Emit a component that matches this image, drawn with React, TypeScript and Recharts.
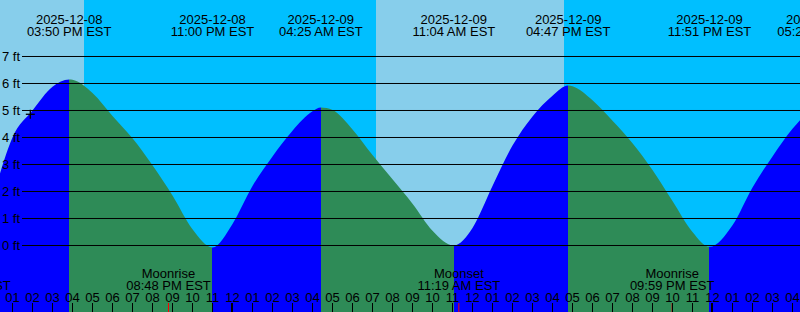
import React from 'react';
import { ComposedChart, Area, XAxis, YAxis, ReferenceArea, Scatter } from 'recharts';

const FONT = '"Liberation Sans", Arial, Helvetica, sans-serif';
const DAY = '#87CEEB';
const NIGHT = '#00BFFF';
const RISE = '#0000FF';
const FALL = '#2E8B57';

const chartTitle = 'Woodbury Creek, New Jersey';

// time axis: hours relative to 2025-12-09 00:00 EST
const viewStart = -11.625;
const viewEnd = 28.375;
const heightMin = -2.463;
const heightMax = 9.0926;

const feetTicks = [0, 1, 2, 3, 4, 5, 6, 7];
const hourTicks = [
  -11, -10, -9, -8, -7, -6, -5, -4, -3, -2, -1, 0, 1, 2, 3, 4, 5, 6, 7, 8,
  9, 10, 11, 12, 13, 14, 15, 16, 17, 18, 19, 20, 21, 22, 23, 24, 25, 26, 27, 28,
];

// tide height readings (ft)
const curveTimes = [
  -11.625, -11, -10, -9, -8.1667, -8, -7, -6, -5, -4, -3, -2, -1, 0, 1, 2, 3, 4, 4.4167, 5,
  6, 7, 8, 9, 10, 11.0667, 12, 13, 14, 15, 16, 16.7833, 17, 18, 19, 20, 21, 22, 23, 23.85,
  25, 26, 27, 28, 28.375,
];
const curveHeights = [
  2.67, 4.0, 5.0, 5.88, 6.15, 6.14, 5.65, 4.8, 3.97, 2.97, 1.85, 0.6, -0.07, 0.8, 2.2, 3.3, 4.25, 4.97, 5.11, 5.02,
  4.3, 3.35, 2.45, 1.55, 0.55, 0.0, 0.65, 2.2, 3.7, 4.78, 5.55, 5.93, 5.9, 5.38, 4.62, 3.79, 2.8, 1.65, 0.5, -0.05,
  0.75, 2.15, 3.3, 4.32, 4.64,
];

// high / low tides
const extremeTimes = [-8.1667, -1.0, 4.4167, 11.0667, 16.7833, 23.85, 29.3333];
const extremeHeights = [6.15, -0.07, 5.11, 0.0, 5.93, -0.05, 5.3];
const extremeKinds = ['H', 'L', 'H', 'L', 'H', 'L', 'H'];
const extremeDates = ['2025-12-08', '2025-12-08', '2025-12-09', '2025-12-09', '2025-12-09', '2025-12-09', '2025-12-10'];
const extremeClocks = ['03:50 PM EST', '11:00 PM EST', '04:25 AM EST', '11:04 AM EST', '04:47 PM EST', '11:51 PM EST', '05:20 AM EST'];

// moon events
const moonTimes = [-13.1833, -3.2, 11.3167, 21.9833];
const moonNames = ['Moonset', 'Moonrise', 'Moonset', 'Moonrise'];
const moonClocks = ['10:49 AM EST', '08:48 PM EST', '11:19 AM EST', '09:59 PM EST'];

// sun events
const sunTimes = [-7.425, 7.175, 16.575];
const sunKinds = ['set', 'rise', 'set'];

// current time marker
const nowTime = -10.11;
const nowHeight = 4.86;

const curveData = curveTimes.map((t, i) => ({ t, h: curveHeights[i] }));
const extremeData = extremeTimes.map((t, i) => ({
  t, h: extremeHeights[i], kind: extremeKinds[i], date: extremeDates[i], clock: extremeClocks[i],
}));
const moonData = moonTimes.map((t, i) => ({ t, h: 0, name: moonNames[i], clock: moonClocks[i] }));
const nowData = [{ t: nowTime, h: nowHeight }];

const bands: { x1: number; x2: number; fill: string }[] = [];
{
  let start = viewStart;
  let isDay = sunKinds[0] === 'set';
  sunTimes.forEach((t, i) => {
    bands.push({ x1: start, x2: t, fill: isDay ? DAY : NIGHT });
    start = t;
    isDay = sunKinds[i] === 'rise';
  });
  bands.push({ x1: start, x2: viewEnd, fill: isDay ? DAY : NIGHT });
}

const gradientStops: { offset: number; color: string }[] = [];
{
  const span = viewEnd - viewStart;
  let color = extremeKinds[0] === 'H' ? RISE : FALL;
  gradientStops.push({ offset: 0, color });
  extremeData.forEach((e) => {
    if (e.t <= viewStart || e.t >= viewEnd) return;
    const o = (e.t - viewStart) / span;
    gradientStops.push({ offset: o, color });
    color = e.kind === 'H' ? FALL : RISE;
    gradientStops.push({ offset: o, color });
  });
  gradientStops.push({ offset: 1, color });
}

const textStyle = { fontFamily: FONT, fontSize: 13, fill: '#000' };

function HourTick(props: any) {
  const { x, payload } = props;
  const v = payload.value as number;
  const h12 = ((v % 12) + 12) % 12;
  const label = h12 === 0 ? '12' : String(h12).padStart(2, '0');
  const isMidnight = ((v % 24) + 24) % 24 === 0;
  const lx = isMidnight ? x - 0.5 : x;
  return (
    <g>
      <text x={x} y={302} textAnchor="middle" {...textStyle}>{label}</text>
      <line x1={lx} x2={lx} y1={303} y2={312} stroke="#000" strokeWidth={isMidnight ? 2 : 1} />
    </g>
  );
}

function FeetTick(props: any) {
  const { y, payload } = props;
  return (
    <g>
      <line x1={22} x2={800} y1={y} y2={y} stroke="#000" strokeWidth={1} />
      <text x={2} y={y + 4.5} textAnchor="start" {...textStyle}>{`${payload.value} ft`}</text>
    </g>
  );
}

function ExtremeLabel(props: any) {
  const { cx, payload } = props;
  return (
    <g>
      <text x={cx} y={24} textAnchor="middle" {...textStyle}>{payload.date}</text>
      <text x={cx} y={36} textAnchor="middle" {...textStyle}>{payload.clock}</text>
    </g>
  );
}

function MoonLabel(props: any) {
  const { cx, payload } = props;
  return (
    <g>
      <text x={cx} y={278} textAnchor="middle" {...textStyle}>{payload.name}</text>
      <text x={cx} y={290} textAnchor="middle" {...textStyle}>{payload.clock}</text>
      <line x1={cx} x2={cx} y1={303} y2={312} stroke="#FF0000" strokeWidth={1} />
    </g>
  );
}

function NowMark(props: any) {
  const { cx, cy } = props;
  return (
    <g>
      <line x1={cx - 4.5} x2={cx + 4.5} y1={cy} y2={cy} stroke="#000" strokeWidth={1.3} />
      <line x1={cx} x2={cx} y1={cy - 4.5} y2={cy + 4.5} stroke="#000" strokeWidth={1.3} />
    </g>
  );
}

export default function App() {
  return (
    <div style={{ position: 'absolute', left: 0, top: 0, width: 800, height: 312 }}>
      <ComposedChart width={800} height={312} data={curveData} margin={{ top: 0, right: 0, bottom: 0, left: 0 }}>
        <defs>
          <linearGradient id="tideFill" x1="0" y1="0" x2="1" y2="0">
            {gradientStops.map((s, i) => (
              <stop key={i} offset={s.offset} stopColor={s.color} stopOpacity={1} />
            ))}
          </linearGradient>
        </defs>
        {bands.map((b, i) => (
          <ReferenceArea key={i} x1={b.x1} x2={b.x2} fill={b.fill} fillOpacity={1} stroke="none" ifOverflow="visible" />
        ))}
        <Area
          type="monotone"
          dataKey="h"
          fill="url(#tideFill)"
          fillOpacity={1}
          stroke="none"
          baseValue="dataMin"
          dot={false}
          activeDot={false}
          isAnimationActive={false}
        />
        <XAxis
          dataKey="t"
          type="number"
          domain={[viewStart, viewEnd]}
          allowDataOverflow
          ticks={hourTicks}
          interval={0}
          mirror
          axisLine={false}
          tickLine={false}
          tick={(p: any) => <HourTick {...p} />}
        />
        <YAxis
          dataKey="h"
          type="number"
          domain={[heightMin, heightMax]}
          allowDataOverflow
          ticks={feetTicks}
          interval={0}
          mirror
          axisLine={false}
          tickLine={false}
          tick={(p: any) => <FeetTick {...p} />}
        />
        <Scatter data={extremeData} shape={(p: any) => <ExtremeLabel {...p} />} isAnimationActive={false} />
        <Scatter data={moonData} shape={(p: any) => <MoonLabel {...p} />} isAnimationActive={false} />
        <Scatter data={nowData} shape={(p: any) => <NowMark {...p} />} isAnimationActive={false} />
        <text x={400} y={12} textAnchor="middle" {...textStyle}>{chartTitle}</text>
      </ComposedChart>
    </div>
  );
}
